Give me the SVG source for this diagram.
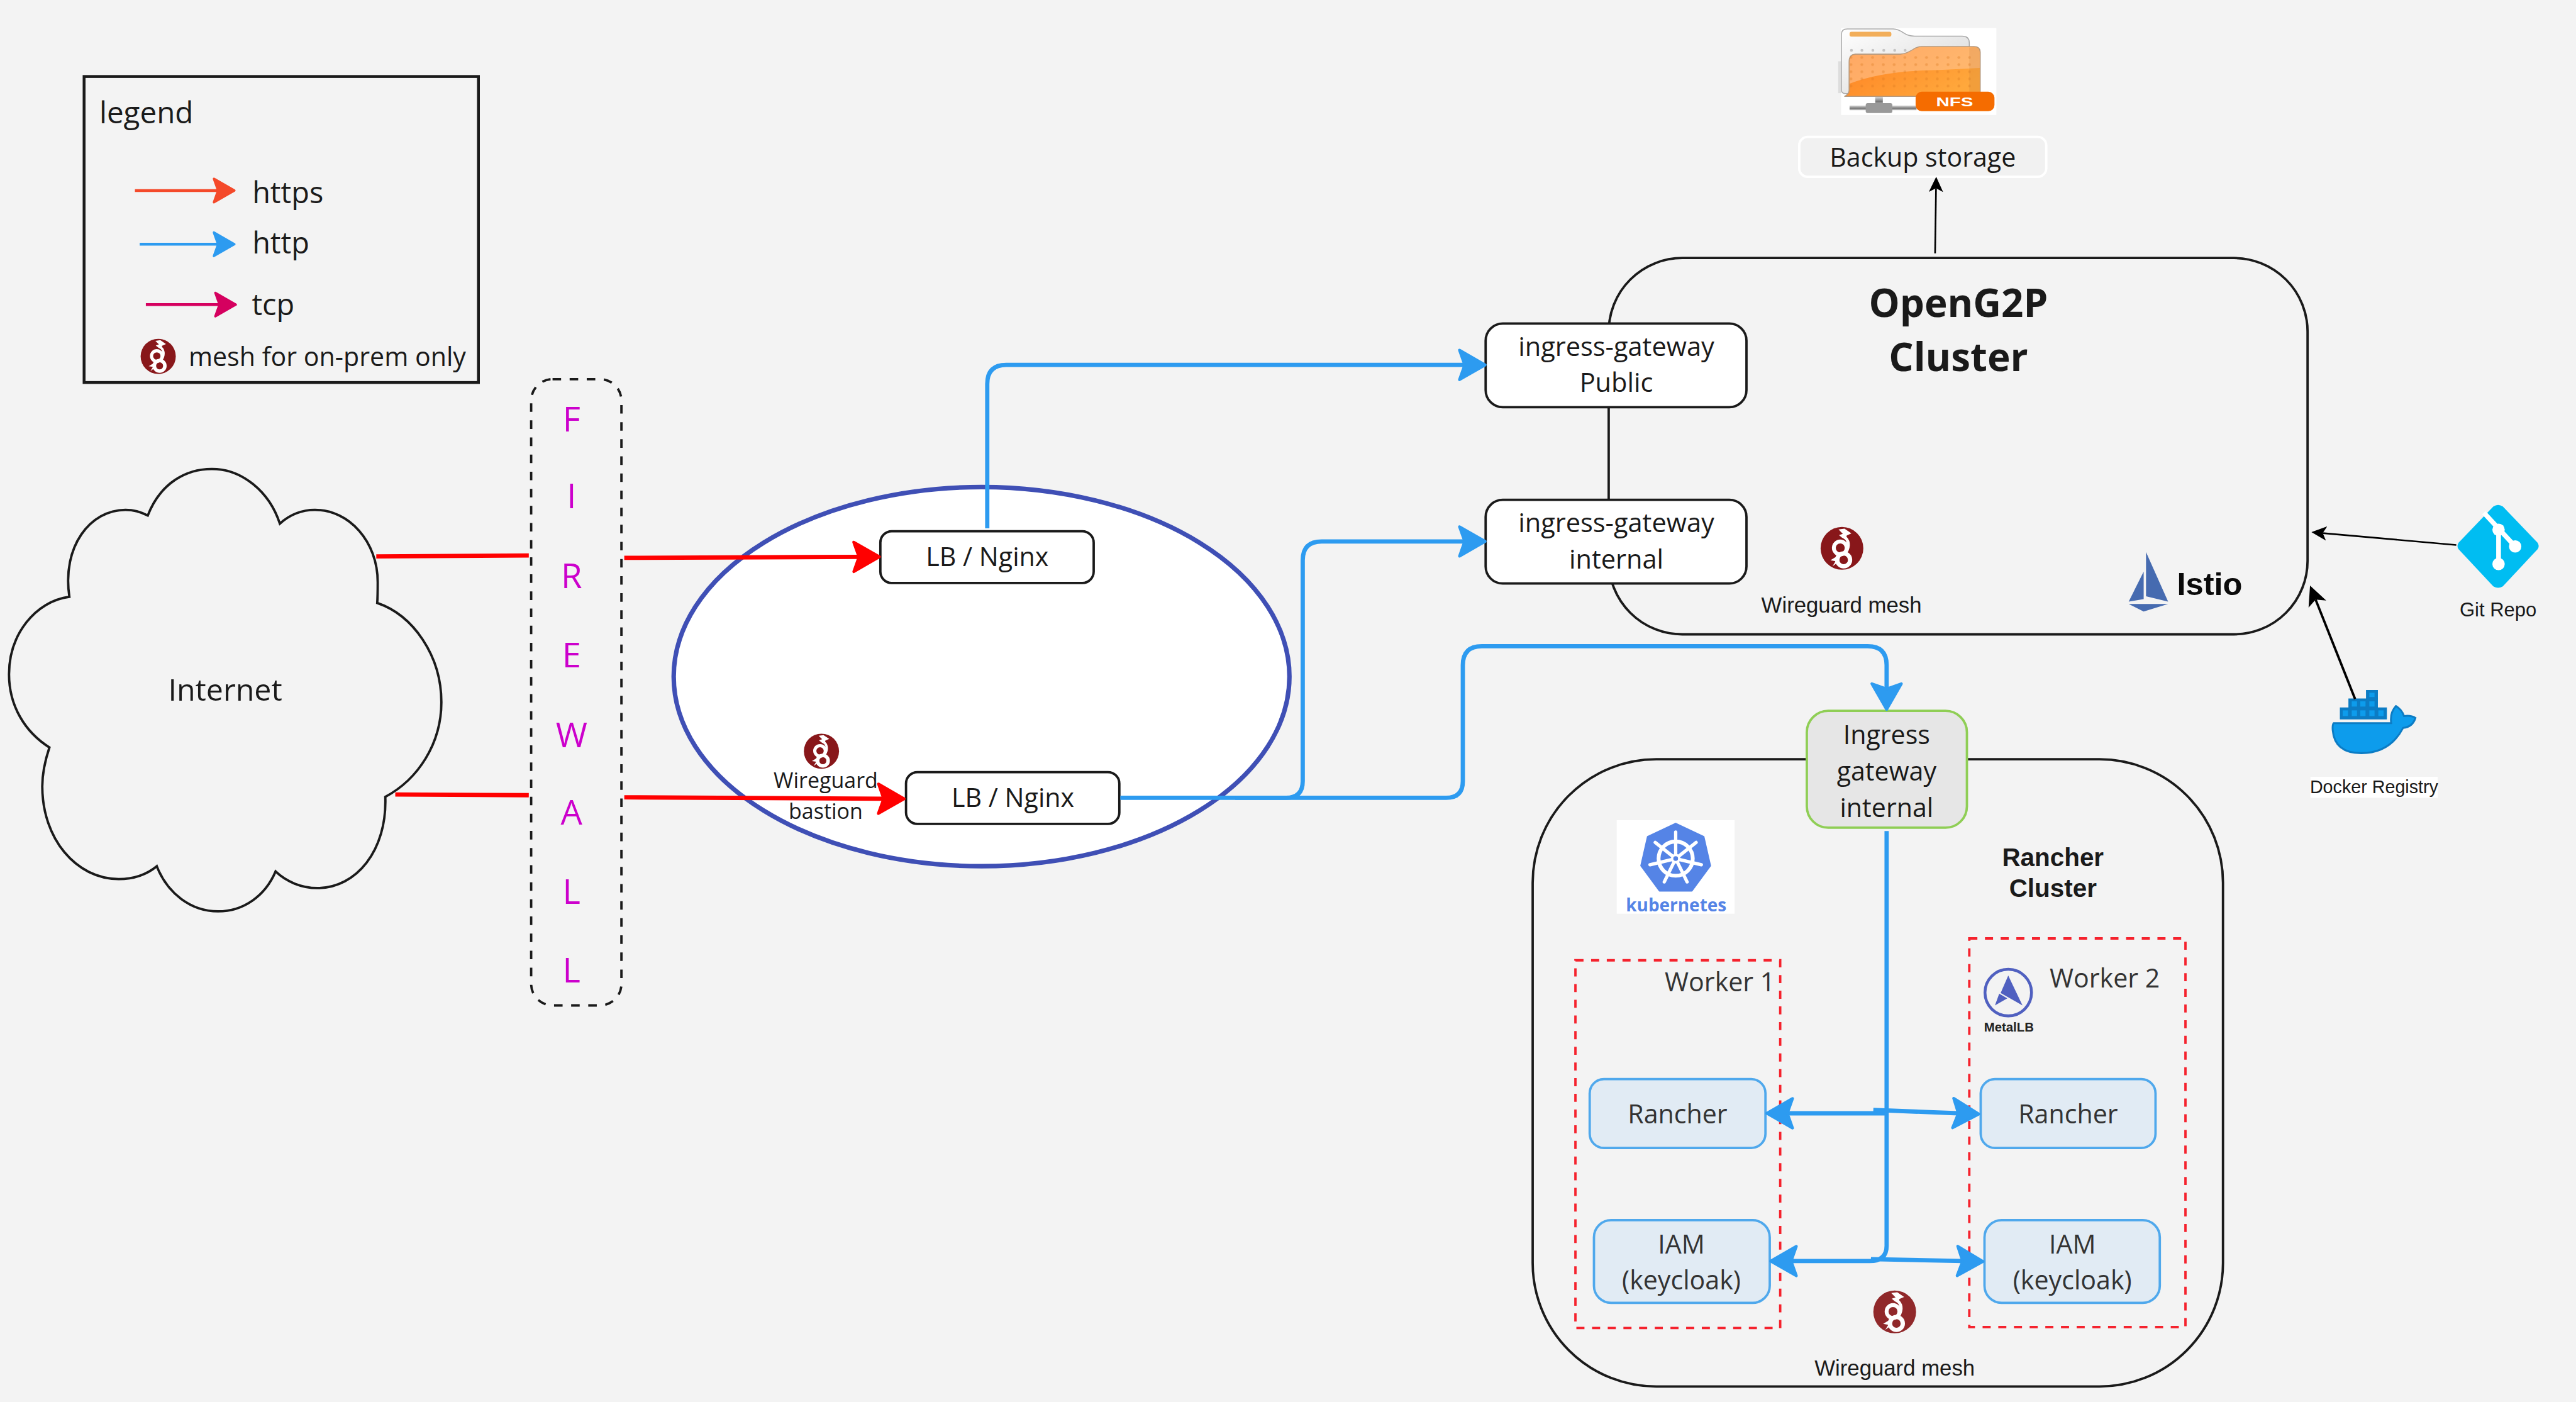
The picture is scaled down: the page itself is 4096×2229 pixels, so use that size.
<svg xmlns="http://www.w3.org/2000/svg" xmlns:xlink="http://www.w3.org/1999/xlink" width="4096" height="2229" viewBox="0 0 4096 2229">
<style>
text{font-family:"Open Sans","Liberation Sans",sans-serif;font-size:54.5px;fill:#1a1a1a}
.m{text-anchor:middle}
.ar{font-family:"Liberation Sans",Arial,sans-serif}
.b{font-weight:700}
.box{fill:#fff;stroke:#1a1a1a;stroke-width:5}
.cl{fill:none;stroke:#1a1a1a;stroke-width:5}
.svc{fill:#e1ebf4;stroke:#4fa8ec;stroke-width:5}
.worker{fill:none;stroke:#f5222d;stroke-width:5;stroke-dasharray:17 16}
.fw{fill:#cc00cc;font-size:72px;text-anchor:middle}
.svct{fill:#333}
.blue{fill:none;stroke:#2d9bf0;stroke-width:9;stroke-linejoin:round}
.red{fill:none;stroke:#ff0000;stroke-width:9}
.blk{fill:none;stroke:#000;stroke-width:3.5}
</style>
<defs>
<marker id="hb" markerUnits="userSpaceOnUse" viewBox="-4 -40 70 80" markerWidth="70" markerHeight="80" refX="14" refY="0" orient="auto"><polygon points="3,-31 57,0 3,31 14,0" fill="#2d9bf0" stroke="#2d9bf0" stroke-width="6" stroke-linejoin="round"/></marker>
<marker id="hr" markerUnits="userSpaceOnUse" viewBox="-4 -40 70 80" markerWidth="70" markerHeight="80" refX="14" refY="0" orient="auto"><polygon points="3,-31 57,0 3,31 14,0" fill="#f00" stroke="#f00" stroke-width="6" stroke-linejoin="round"/></marker>
<marker id="lo" markerUnits="userSpaceOnUse" viewBox="-4 -40 70 80" markerWidth="56" markerHeight="64" refX="14" refY="0" orient="auto"><polygon points="3,-31 57,0 3,31 14,0" fill="#f4492a" stroke="#f4492a" stroke-width="6" stroke-linejoin="round"/></marker>
<marker id="lb" markerUnits="userSpaceOnUse" viewBox="-4 -40 70 80" markerWidth="56" markerHeight="64" refX="14" refY="0" orient="auto"><polygon points="3,-31 57,0 3,31 14,0" fill="#2d9bf0" stroke="#2d9bf0" stroke-width="6" stroke-linejoin="round"/></marker>
<marker id="lp" markerUnits="userSpaceOnUse" viewBox="-4 -40 70 80" markerWidth="56" markerHeight="64" refX="14" refY="0" orient="auto"><polygon points="3,-31 57,0 3,31 14,0" fill="#d5005f" stroke="#d5005f" stroke-width="6" stroke-linejoin="round"/></marker>
<marker id="ka" markerUnits="userSpaceOnUse" viewBox="0 -16 34 32" markerWidth="34" markerHeight="32" refX="8" refY="0" orient="auto"><polygon points="0,-15 32,0 0,15 8,0" fill="#000"/></marker>
<marker id="kb" markerUnits="userSpaceOnUse" viewBox="0 -22 44 44" markerWidth="44" markerHeight="44" refX="10" refY="0" orient="auto"><polygon points="0,-20 42,0 0,20 10,0" fill="#000"/></marker>
<linearGradient id="fb" x1="0" y1="0" x2="1" y2="1"><stop offset="0" stop-color="#fff"/><stop offset="1" stop-color="#d4d4d4"/></linearGradient>
<linearGradient id="ff" x1="0" y1="0" x2="1" y2="0.6"><stop offset="0" stop-color="#ff7f20"/><stop offset="1" stop-color="#ffa83c"/></linearGradient>
<linearGradient id="pipe" x1="0" y1="0" x2="0" y2="1"><stop offset="0" stop-color="#ddd"/><stop offset="0.6" stop-color="#777"/><stop offset="1" stop-color="#ccc"/></linearGradient>
<pattern id="dots" patternUnits="userSpaceOnUse" x="3885" y="113" width="22.7" height="15"><circle cx="11" cy="8" r="3" fill="#d9781f" opacity=".35"/></pattern>
<g id="wg">
<circle r="50" fill="#88171a"/>
<circle cx="-4" cy="-1" r="15" fill="none" stroke="#fff" stroke-width="9"/>
<circle cx="4" cy="27" r="15" fill="none" stroke="#fff" stroke-width="10"/>
<path d="M4,-28C16,-20 19,-6 9,10" fill="none" stroke="#fff" stroke-width="7"/>
<path d="M-8,-44L6,-46L22,-35L11,-30L9,-20L0,-25L-7,-31L2,-34Z" fill="#fff"/>
<path d="M-9,17L-27,28L-15,30L-22,42L-6,30Z" fill="#fff"/>
</g>
</defs>
<rect width="4096" height="2229" fill="#f3f3f3"/>
<g transform="scale(0.75544)">

<g id="legend">
<rect x="177" y="161" width="830" height="644" fill="none" stroke="#1a1a1a" stroke-width="6"/>
<text x="209" y="259" style="font-size:63px">legend</text>
<text x="531" y="428" style="font-size:62px">https</text>
<text x="531" y="534" style="font-size:62px">http</text>
<text x="530" y="663" style="font-size:62px">tcp</text>
<use href="#wg" transform="translate(333,750) scale(.74)"/>
<text x="397" y="771" style="font-size:54.5px">mesh for on-prem only</text>
<path d="M284,401H459" fill="none" stroke="#f4492a" stroke-width="6" marker-end="url(#lo)"/>
<path d="M294,514H459" fill="none" stroke="#2d9bf0" stroke-width="6" marker-end="url(#lb)"/>
<path d="M307,641H462" fill="none" stroke="#d5005f" stroke-width="6" marker-end="url(#lp)"/>
</g>

<g id="internet">
<path class="cl" style="fill:#f3f3f3" d="M311,1085C337,1018 390,987 446,987C510,987 567,1035 589,1102C610,1083 635,1073 663,1073C735,1073 795,1140 795,1225C795,1240 795,1255 794,1269C870,1295 929,1380 929,1478C929,1565 880,1640 811,1677C815,1790 750,1869 668,1869C635,1869 603,1856 580,1834C558,1886 512,1918 459,1918C402,1918 352,1880 330,1823C308,1841 280,1850 250,1850C160,1850 89,1765 89,1655C89,1625 95,1600 104,1573C52,1540 19,1485 19,1419C19,1335 75,1265 146,1256C130,1150 190,1073 264,1073C282,1073 298,1078 311,1085Z"/>
<text class="m" x="474" y="1475" style="font-size:64px">Internet</text>
</g>

<g id="firewall">
<rect x="1118" y="798" width="190" height="1318" rx="45" fill="none" stroke="#1a1a1a" stroke-width="5" stroke-dasharray="18 18"/>
<text class="fw" x="1203" y="908">F</text>
<text class="fw" x="1203" y="1070">I</text>
<text class="fw" x="1203" y="1238">R</text>
<text class="fw" x="1203" y="1404">E</text>
<text class="fw" x="1203" y="1572">W</text>
<text class="fw" x="1203" y="1735">A</text>
<text class="fw" x="1203" y="1902">L</text>
<text class="fw" x="1203" y="2068">L</text>
</g>

<g id="lb-zone">
<ellipse cx="2066" cy="1424" rx="648" ry="399" fill="#fff" stroke="#3f4fb5" stroke-width="9.5"/>
<use href="#wg" transform="translate(1729,1581) scale(.74)"/>
<text class="m" x="1738" y="1659" style="font-size:45px">Wireguard</text>
<text class="m" x="1738" y="1723" style="font-size:45px">bastion</text>
</g>
<g id="lb-nginx-1">
<rect class="box" x="1853" y="1118" width="449" height="109" rx="24"/>
<text class="m" x="2078" y="1191">LB / Nginx</text>
</g>
<g id="lb-nginx-2">
<rect class="box" x="1907" y="1625" width="449" height="109" rx="24"/>
<text class="m" x="2132" y="1698">LB / Nginx</text>
</g>

<g id="openg2p-cluster">
<rect class="cl" x="3386" y="543" width="1471" height="792" rx="155"/>
<text class="m b" x="4122" y="667" style="font-size:82px">OpenG2P</text>
<text class="m b" x="4122" y="781" style="font-size:82px">Cluster</text>
<use href="#wg" transform="translate(3877,1154) scale(.9)"/>
<text class="m ar" x="3876" y="1289" style="font-size:46px">Wireguard mesh</text>
<polygon points="4517,1162 4563.5,1266 4517,1255" fill="#466bb0"/>
<polygon points="4512,1203 4512,1261 4480.5,1266" fill="#466bb0"/>
<polygon points="4480.5,1271 4563.5,1271 4512,1287" fill="#466bb0"/>
<text class="ar b" x="4582" y="1252" style="font-size:67px;fill:#0a0a0a">Istio</text>
</g>
<g id="ingress-public">
<rect class="box" x="3127" y="681" width="549" height="176" rx="36"/>
<text class="m" x="3402" y="749" style="font-size:55px">ingress-gateway</text>
<text class="m" x="3402" y="825" style="font-size:55px">Public</text>
</g>
<g id="ingress-internal">
<rect class="box" x="3127" y="1052" width="549" height="176" rx="36"/>
<text class="m" x="3402" y="1120" style="font-size:55px">ingress-gateway</text>
<text class="m" x="3402" y="1197" style="font-size:55px">internal</text>
</g>

<g id="backup-storage">
<rect x="3787" y="288" width="520" height="84" rx="18" fill="#f1f1f1" stroke="#fff" stroke-width="5"/>
<text class="m" x="4047" y="351">Backup storage</text>
</g>
<g id="nfs-icon">
<rect x="3869" y="129" width="8" height="67" fill="#ddd"/>
<rect x="3875" y="59" width="327" height="183" fill="#fff"/>
<path d="M3893,222H4034V232H3893Z" fill="url(#pipe)"/>
<rect x="3947" y="203" width="16" height="18" fill="url(#pipe)"/>
<rect x="3927" y="217" width="56" height="21" rx="4" fill="#999"/>
<path d="M3876,72Q3876,61 3888,61H3985Q3995,61 4008,70Q4017,76 4030,76H4130Q4145,76 4145,90V197H3885Q3876,197 3876,190Z" fill="url(#fb)" stroke="#aaa" stroke-width="2"/>
<rect x="3893" y="67" width="88" height="10" rx="4" fill="#f2ae5a"/>
<path d="M3892,130Q3892,115 3905,114H4000Q4012,113 4025,105Q4035,98 4045,98H4155Q4168,98 4168,110V203H3882Q3892,198 3892,190Z" fill="url(#ff)" stroke="#b59a80" stroke-width="2"/>
<path d="M3893,176Q3960,150 4060,148Q4120,146 4167,143V110Q4167,99 4155,99H4045Q4035,99 4025,106Q4012,114 4000,115H3905Q3893,116 3893,130Z" fill="#ffc89a" opacity=".55"/>
<rect x="3893" y="118" width="255" height="75" fill="url(#dots)"/>
<path d="M4145,100V197H4168V110Q4168,99 4155,99Z" fill="#b5763a" opacity=".18"/>
<g fill="#c4c4c4"><circle cx="3897" cy="106" r="3"/><circle cx="3919" cy="106" r="3"/><circle cx="3942" cy="106" r="3"/><circle cx="3965" cy="106" r="3"/><circle cx="3988" cy="106" r="3"/><circle cx="4010" cy="106" r="3"/></g>
<rect x="4032" y="193" width="166" height="41" rx="13" fill="#f56c00"/>
<text x="4075" y="224" textLength="78" lengthAdjust="spacingAndGlyphs" class="ar b" style="font-size:27px;fill:#fff">NFS</text>
</g>

<g id="git-repo">
<path d="M5248,1066Q5258,1059 5268,1066L5341,1142Q5346,1149 5341,1156L5268,1234Q5258,1240 5248,1234L5175,1156Q5170,1149 5175,1142Z" fill="#00bdf2"/>
<path d="M5228,1079L5294,1150M5259,1115V1187" stroke="#fff" stroke-width="10" fill="none"/>
<circle cx="5259" cy="1115" r="13" fill="#fff"/><circle cx="5294" cy="1150" r="13" fill="#fff"/><circle cx="5259" cy="1187" r="13" fill="#fff"/>
<text class="m ar" x="5258" y="1297" style="font-size:41px">Git Repo</text>
</g>
<g id="docker-registry">
<path d="M4925,1489H4943V1470H4980V1452H5005V1489H5024V1514H4925Z" fill="#0c7cc4"/>
<g fill="#0d9cec"><rect x="4931" y="1495" width="11" height="12"/><rect x="4950" y="1495" width="11" height="12"/><rect x="4968" y="1495" width="11" height="12"/><rect x="4987" y="1495" width="11" height="12"/><rect x="5006" y="1495" width="11" height="12"/><rect x="4950" y="1476" width="11" height="11"/><rect x="4968" y="1476" width="11" height="11"/><rect x="4987" y="1476" width="11" height="11"/><rect x="4987" y="1458" width="11" height="9"/></g>
<path d="M4912,1522H5033Q5030,1500 5043,1486Q5055,1493 5060,1507Q5075,1505 5084,1511Q5078,1530 5058,1532Q5030,1585 4970,1585Q4914,1585 4910,1537Q4909,1525 4912,1522Z" fill="#0d9cec" stroke="#0c7cc4" stroke-width="4"/>
<rect x="4863" y="1635" width="268" height="44" fill="#fff"/>
<text class="m ar" x="4997" y="1669" style="font-size:38px">Docker Registry</text>
</g>

<g id="rancher-cluster">
<rect class="cl" x="3226" y="1598" width="1453" height="1320" rx="260"/>
<text class="m ar b" x="4321" y="1823" style="font-size:53.5px">Rancher</text>
<text class="m ar b" x="4321" y="1888" style="font-size:53.5px">Cluster</text>
<use href="#wg" transform="translate(3988,2761) scale(.9)" opacity=".92"/>
<text class="m ar" x="3988" y="2895" style="font-size:46px">Wireguard mesh</text>
</g>
<g id="kubernetes-logo">
<rect x="3403" y="1726" width="248" height="197" fill="#fff"/>
<path d="M3527,1733L3586,1761L3600,1822L3561,1875H3493L3454,1822L3468,1761Z" fill="#5584e6" stroke="#5584e6" stroke-width="3" stroke-linejoin="round"/>
<circle cx="3527" cy="1807" r="36" fill="none" stroke="#fff" stroke-width="8"/>
<path d="M3527,1807V1751M3527,1807L3570,1773M3527,1807L3581,1820M3527,1807L3551,1856M3527,1807L3503,1856M3527,1807L3473,1820M3527,1807L3484,1773" stroke="#fff" stroke-width="7" stroke-linecap="round"/>
<circle cx="3527" cy="1807" r="10" fill="#fff"/><circle cx="3527" cy="1807" r="5" fill="#5584e6"/>
<text class="m b" x="3528" y="1918" style="font-size:37px;fill:#5584e6">kubernetes</text>
</g>
<g id="ingress-gateway-internal">
<rect x="3803" y="1496" width="337" height="246" rx="45" fill="#e6e6e6" stroke="#8fce55" stroke-width="5"/>
<text class="m" x="3971" y="1566">Ingress</text>
<text class="m" x="3971" y="1643">gateway</text>
<text class="m" x="3971" y="1720">internal</text>
</g>
<g id="worker-1">
<rect class="worker" x="3316" y="2021" width="431" height="774"/>
<text class="svct" x="3504" y="2086">Worker 1</text>
</g>
<g id="worker-2">
<rect class="worker" x="4145" y="1975" width="455" height="818"/>
<text class="svct" x="4314" y="2078">Worker 2</text>
<circle cx="4227" cy="2089" r="49" fill="none" stroke="#5060c0" stroke-width="6"/>
<polygon points="4227,2053 4257,2116 4211,2090" fill="#5060c0"/>
<polygon points="4208,2091 4225,2101 4199,2116" fill="#5060c0"/>
<text class="ar b" x="4176" y="2171" style="font-size:27px;fill:#222">MetalLB</text>
</g>
<g id="rancher-1"><rect class="svc" x="3346" y="2271" width="370" height="145" rx="30"/><text class="m svct" x="3531" y="2364">Rancher</text></g>
<g id="rancher-2"><rect class="svc" x="4169" y="2271" width="368" height="145" rx="30"/><text class="m svct" x="4353" y="2364">Rancher</text></g>
<g id="iam-1"><rect class="svc" x="3355" y="2568" width="370" height="174" rx="36"/><text class="m svct" x="3539" y="2638">IAM</text><text class="m svct" x="3539" y="2714">(keycloak)</text></g>
<g id="iam-2"><rect class="svc" x="4177" y="2568" width="369" height="174" rx="36"/><text class="m svct" x="4362" y="2638">IAM</text><text class="m svct" x="4362" y="2714">(keycloak)</text></g>

<g id="connectors">
<path class="red" d="M792,1171L1113,1169"/>
<path class="red" d="M832,1672L1113,1673.5"/>
<path class="red" d="M1314,1174L1808,1172" marker-end="url(#hr)"/>
<path class="red" d="M1314,1678L1860,1681" marker-end="url(#hr)"/>
<path class="blue" d="M2078,1112V808Q2078,768 2118,768H3083" marker-end="url(#hb)"/>
<path class="blue" d="M2358,1679H2707Q2742,1679 2742,1644V1179Q2742,1139.5 2782,1139.5H3083" marker-end="url(#hb)"/>
<path class="blue" d="M2600,1679H3044Q3079,1679 3079,1644V1400Q3079,1360 3119,1360H3931Q3971,1360 3971,1400V1450" marker-end="url(#hb)"/>
<path class="blue" d="M3971,1749V2622Q3971,2654 3935,2654H3770" marker-end="url(#hb)"/>
<path class="blue" d="M3938,2650L4131,2654" marker-end="url(#hb)"/>
<path class="blue" d="M3971,2343H3762" marker-end="url(#hb)"/>
<path class="blue" d="M3943,2336L4122,2343" marker-end="url(#hb)"/>
<path class="blk" d="M4073,533L4075,396" marker-end="url(#ka)"/>
<path class="blk" d="M5170,1147L4889,1122" marker-end="url(#ka)"/>
<path class="blk" style="stroke-width:5" d="M4957,1471L4874,1262" marker-end="url(#kb)"/>
</g>
</g>
</svg>
